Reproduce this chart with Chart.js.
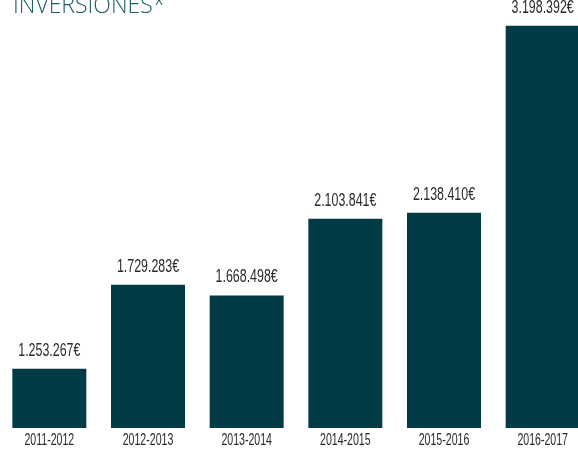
<!DOCTYPE html>
<html>
<head>
    <title>Inversiones</title>
    <style>
        body {
            margin: 0;
            padding: 0;
            background-color: #fff;
            overflow: hidden;
            width: 578px;
            height: 450px;
            position: relative;
        }

        #title {
            position: absolute;
            left: 13px;
            top: -7px;
            font-family: "Open Sans", sans-serif;
            font-weight: 300;
            font-size: 23px;
            line-height: 23px;
            color: #215f69;
            z-index: 2;
        }

        #chart-container {
            position: absolute;
            left: 0;
            top: 0;
            width: 592px;
            height: 450px;
        }
    </style>
</head>
<body>
    <div id="title">INVERSIONES*</div>

    <div id="chart-container">
        <canvas id="invest-chart" width="592" height="450"></canvas>
    </div>

    <script src="https://cdn.jsdelivr.net/npm/chart.js"></script>
    <script>
        // chart data
        const seasons = ['2011-2012', '2012-2013', '2013-2014', '2014-2015', '2015-2016', '2016-2017'];
        const investments = [1253267, 1729283, 1668498, 2103841, 2138410, 3198392];

        const barColor = '#023b45';
        const textColor = '#2a2a2a';
        const textFont = '"Liberation Sans", Arial, sans-serif';

        // 1253267 -> "1.253.267€"
        function euro(v) {
            return String(v).replace(/\B(?=(\d{3})+(?!\d))/g, '.') + '€';
        }

        // the original uses a very narrow font, so squeeze the text sideways
        function narrowText(ctx, text, x, y, size, squeeze) {
            ctx.save();
            ctx.translate(x, y);
            ctx.scale(squeeze, 1);
            ctx.font = size + 'px ' + textFont;
            ctx.fillStyle = textColor;
            ctx.textAlign = 'center';
            ctx.textBaseline = 'middle';
            ctx.fillText(text, 0, 0);
            ctx.restore();
        }

        // amounts above the bars and season names below the axis
        const barTexts = {
            id: 'barTexts',
            afterDatasetsDraw(chart) {
                const ctx = chart.ctx;
                const meta = chart.getDatasetMeta(0);
                const xScale = chart.scales.x;
                meta.data.forEach((bar, i) => {
                    narrowText(ctx, euro(investments[i]), bar.x, bar.y - 18, 18, 0.69);
                });
                seasons.forEach((s, i) => {
                    narrowText(ctx, s, xScale.getPixelForTick(i), chart.chartArea.bottom + 13, 16, 0.66);
                });
            }
        };

        const ctx = document.getElementById('invest-chart').getContext('2d');
        const chart = new Chart(ctx, {
            type: 'bar',
            data: {
                labels: seasons,
                datasets: [{
                    data: investments,
                    backgroundColor: barColor,
                    borderWidth: 0,
                    categoryPercentage: 0.75,
                    barPercentage: 1
                }]
            },
            options: {
                responsive: false,
                animation: false,
                layout: {
                    padding: { left: 0, right: 0, top: 0, bottom: 22 }
                },
                plugins: {
                    legend: { display: false },
                    title: { display: false },
                    tooltip: { enabled: false }
                },
                scales: {
                    x: {
                        display: false
                    },
                    y: {
                        display: false,
                        min: 917000,
                        max: 3345000
                    }
                }
            },
            plugins: [barTexts]
        });
    </script>
</body>
</html>
